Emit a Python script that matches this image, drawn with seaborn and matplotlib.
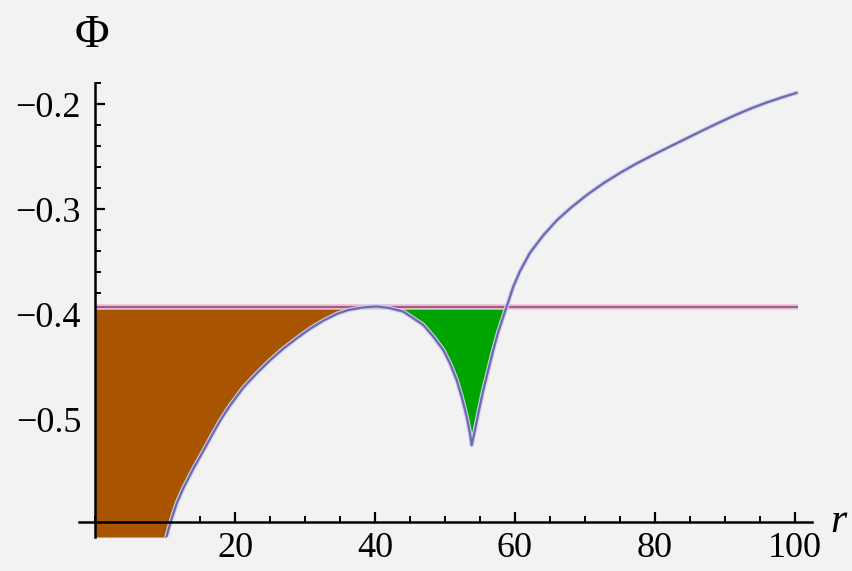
import numpy as np
import matplotlib
matplotlib.use("Agg")
import matplotlib.pyplot as plt
import seaborn as sns
from matplotlib.ticker import MultipleLocator

# values
r = np.array([10.2, 10.81, 11.67, 12.62, 14.05, 15.48, 16.67, 17.86, 19.29, 21.19,
              23.1, 25.0, 26.9, 28.81, 30.71, 32.62, 34.52, 36.19, 38.3, 40.2, 42.0,
              44.05, 45.48, 46.9, 48.33, 49.76, 50.71, 51.67, 52.38, 53.1, 53.57,
              53.81, 54.29, 54.76, 55.48, 56.19, 56.9, 57.62, 58.33, 58.81,
              59.76, 60.71, 62.14, 64.05, 65.95, 67.86, 70.24, 72.62, 75.0,
              77.38, 79.76, 82.14, 84.52, 86.43, 88.81, 91.19, 93.57, 95.95,
              98.33, 100.24])
phi = np.array([-0.612, -0.5975, -0.580, -0.5655, -0.547, -0.530, -0.5155, -0.5015,
                -0.4868, -0.4698, -0.4562, -0.4438, -0.4327, -0.4229, -0.4138, -0.4061,
                -0.3997, -0.3959, -0.3935, -0.3926, -0.394,
                -0.3975, -0.4038, -0.4102, -0.4213, -0.434, -0.4467, -0.4626,
                -0.4785, -0.4975, -0.5133, -0.5245, -0.510, -0.4943, -0.472,
                -0.453, -0.434, -0.4166, -0.4023, -0.3928,
                -0.3737, -0.359, -0.3415, -0.3248, -0.3108, -0.2993, -0.2866,
                -0.2754, -0.2655, -0.2565, -0.2483, -0.2404, -0.2326, -0.2263,
                -0.2187, -0.2113, -0.2045, -0.1985, -0.1932, -0.1893])
level = -0.393
r_line = [0, 100.4]

xticks_major = [20, 40, 60, 80, 100]
yticks_major = [-0.5, -0.4, -0.3, -0.2]
ytick_labels = ['\u22120.5', '\u22120.4', '\u22120.3', '\u22120.2']

bg = '#f2f2f2'
sns.set_style("white", {'axes.facecolor': bg, 'figure.facecolor': bg})
plt.rcParams['font.family'] = ['Liberation Serif', 'DejaVu Serif']
plt.rcParams['text.color'] = 'black'
plt.rcParams['xtick.color'] = 'black'
plt.rcParams['ytick.color'] = 'black'

fig = plt.figure(figsize=(8.53, 5.71), dpi=100)
ax = fig.add_axes([0.0925, 0.0595, 0.860, 0.795])
ax.set_xlim(-2.3, 102.5)
ax.set_ylim(-0.612, -0.18)
ymin = ax.get_ylim()[0]

# fills (left one runs down to the bottom of the frame where the curve is absent)
left = r < 41
r_fill = np.r_[0, r[left]]
phi_fill = np.r_[ymin, phi[left]]
ax.fill_between(r_fill, phi_fill, level, where=phi_fill <= level,
                interpolate=True, color='#a85400', lw=0, zorder=1)
right = r > 41
ax.fill_between(r[right], phi[right], level, where=phi[right] <= level,
                interpolate=True, color='#00a400', lw=0, zorder=1)

# horizontal level line
ax.plot(r_line, [level, level], color='#e6c0d4', lw=4, zorder=2, solid_capstyle='butt')
ax.plot(r_line, [level, level], color='#a85a84', lw=1.5, zorder=3, solid_capstyle='butt')

# curve
sns.lineplot(x=r, y=phi, sort=False, estimator=None, color='#d0d0ec', lw=3.2, ax=ax, zorder=4)
sns.lineplot(x=r, y=phi, sort=False, estimator=None, color='#6a6ab4', lw=1.6, ax=ax, zorder=5)

# Mathematica style axes
for s in ['top', 'right']:
    ax.spines[s].set_visible(False)
ax.spines['left'].set_position(('data', 0))
ax.spines['bottom'].set_position(('data', -0.598))
for s in ['left', 'bottom']:
    ax.spines[s].set_linewidth(1.8)
    ax.spines[s].set_color('black')
    ax.spines[s].set_zorder(6)

ax.set_xticks(xticks_major)
ax.set_yticks(yticks_major)
ax.set_yticklabels(ytick_labels)
ax.xaxis.set_minor_locator(MultipleLocator(5))
ax.yaxis.set_minor_locator(MultipleLocator(0.02))
ax.tick_params(which='major', direction='in', length=7, width=1.6, labelsize=26)
ax.tick_params(which='minor', direction='in', length=4, width=1.4)
ax.tick_params(axis='x', which='both', bottom=True, pad=7)
ax.tick_params(axis='y', which='both', left=True, pad=10)

ax.set_xlabel('')
ax.set_ylabel('')
fig.text(92 / 853, 1 - 36 / 571, '\u03a6', fontsize=34, ha='center', va='center')
fig.text(838 / 853, 1 - 522 / 571, 'r', fontsize=30, style='italic', ha='center', va='center')

fig.savefig('out.png', dpi=100, facecolor=bg)
